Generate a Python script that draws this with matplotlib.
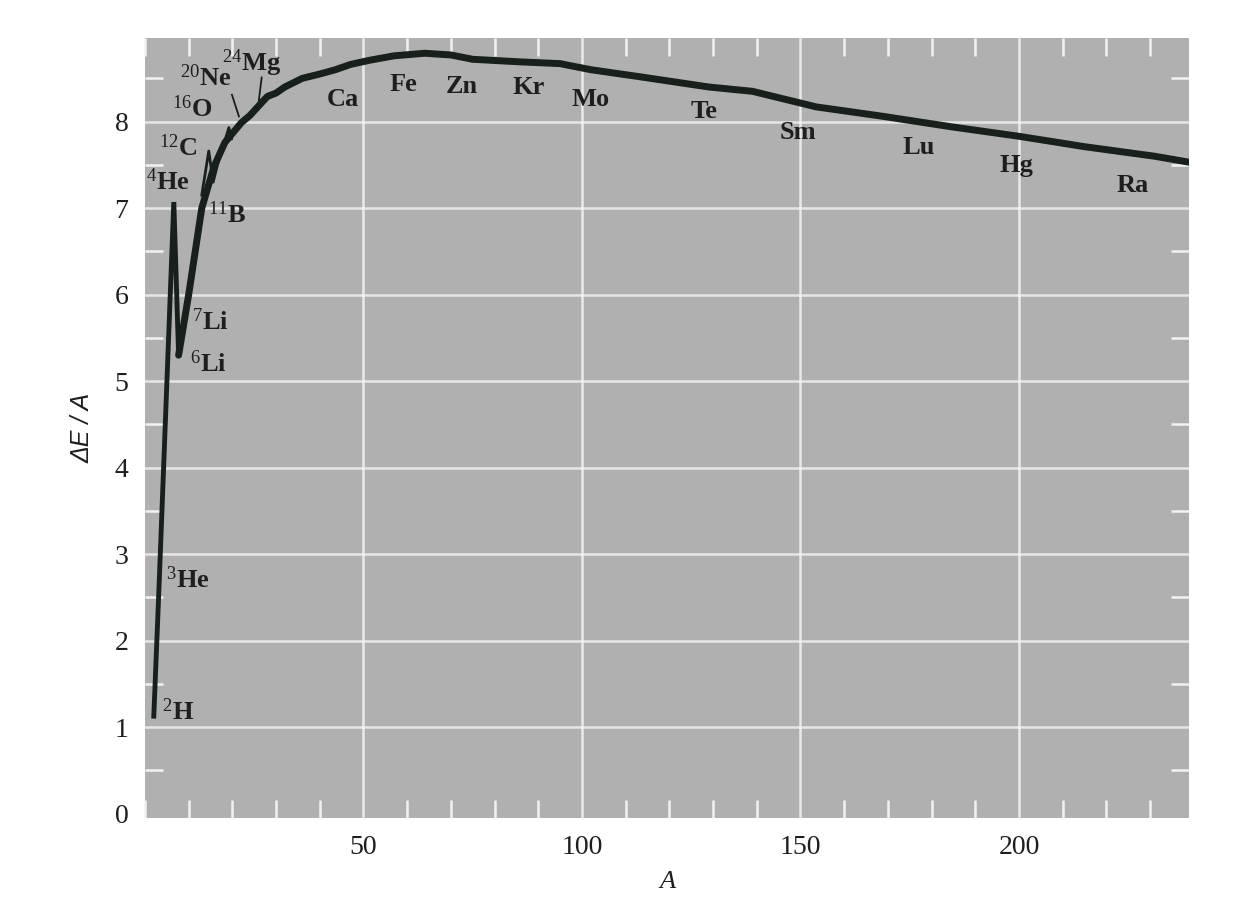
import matplotlib
matplotlib.use("Agg")
import matplotlib.pyplot as plt
from matplotlib.ticker import MultipleLocator

# binding energy per nucleon (A, dE/A in MeV)
# 2H -> 3He -> 4He spike -> down to the Li dip
light_A = [2.0, 3.2, 6.6, 7.7]
light_E = [1.1, 2.6, 7.07, 5.3]

# thin zigzag of 12C / 16O beside the main curve
spike_A = [13.0, 14.6, 15.6, 16.6, 19.2, 19.8]
spike_E = [7.15, 7.66, 7.30, 7.50, 7.93, 7.80]

# main curve
main_A = [7.7, 10.0, 13.0, 15.8, 18.3, 22.1, 24.0, 26.0, 28.0, 30.0, 32.0, 36.0, 40.0,
          43.6, 47.0, 51.5, 57.0, 64.0, 70.0, 75.0, 86.0, 95.0, 102.0, 113.0, 129.0,
          139.0, 153.6, 169.0, 184.5, 200.0, 215.0, 231.0, 239.0]
main_E = [5.3, 6.0, 7.0, 7.48, 7.76, 7.99, 8.07, 8.18, 8.29, 8.33, 8.40, 8.50, 8.55,
          8.60, 8.66, 8.71, 8.76, 8.79, 8.77, 8.72, 8.69, 8.67, 8.60, 8.52, 8.40,
          8.35, 8.17, 8.06, 7.94, 7.83, 7.71, 7.60, 7.53]

# element names along the curve
elem_names = ["Ca", "Fe", "Zn", "Kr", "Mo", "Te", "Sm", "Lu", "Hg", "Ra"]
elem_A = [45.4, 59.1, 72.6, 87.7, 102.0, 127.9, 149.5, 177.0, 199.5, 226.0]
elem_E = [8.25, 8.43, 8.40, 8.39, 8.25, 8.12, 7.87, 7.70, 7.49, 7.26]

# light isotopes (mass number, symbol)
iso_mass = ["24", "20", "16", "12", "4", "11", "7", "6", "3", "2"]
iso_sym = ["Mg", "Ne", "O", "C", "He", "B", "Li", "Li", "He", "H"]
iso_A = [24.5, 13.8, 10.8, 7.6, 5.3, 18.9, 15.0, 14.4, 9.9, 7.6]
iso_E = [8.67, 8.51, 8.15, 7.70, 7.31, 6.93, 5.69, 5.20, 2.71, 1.18]

# leader lines for 20Ne and 24Mg
lead_A = [[19.9, 21.5], [26.7, 26.0]]
lead_E = [[8.31, 8.06], [8.51, 8.22]]

x_ticks = [50, 100, 150, 200]
y_ticks = [0, 1, 2, 3, 4, 5, 6, 7, 8]

plt.rcParams["font.family"] = ["Liberation Serif", "DejaVu Serif"]
plt.rcParams["mathtext.fontset"] = "custom"
plt.rcParams["mathtext.rm"] = "Liberation Serif"
plt.rcParams["mathtext.default"] = "rm"

fig = plt.figure(figsize=(12.39, 8.97), dpi=100)
fig.set_facecolor("w")
ax = fig.add_axes([0.117, 0.088, 0.843, 0.870])
ax.set_facecolor("#b0b0b0")
for s in ax.spines.values():
    s.set_visible(False)

ax.set_xlim(0, 239)
ax.set_ylim(-0.05, 8.97)

ax.set_xticks(x_ticks)
ax.set_yticks(y_ticks)
ax.xaxis.set_minor_locator(MultipleLocator(10))
ax.yaxis.set_minor_locator(MultipleLocator(0.5))
ax.tick_params(which="major", length=0, labelsize=20, pad=12, colors="#1e1e1e")
ax.tick_params(which="minor", direction="in", length=13, width=1.8, color="#f2f2f2",
               top=True, right=True)

# white grid of the graph paper
for xv in x_ticks:
    ax.axvline(xv, color="#f4f4f4", lw=1.8, alpha=0.85, zorder=1)
for yv in y_ticks[1:]:
    ax.axhline(yv, color="#f4f4f4", lw=1.8, alpha=0.8, zorder=1)

line_col = "#17201b"
ax.plot(light_A, light_E, color=line_col, lw=3.5, solid_joinstyle="miter",
        solid_capstyle="butt", zorder=3)
ax.plot(spike_A, spike_E, color=line_col, lw=2.0, zorder=3)
ax.plot(main_A, main_E, color=line_col, lw=5.0, solid_capstyle="round", zorder=3)

for la, le in zip(lead_A, lead_E):
    ax.plot(la, le, color=line_col, lw=1.3, zorder=3)

for name, a, e in zip(elem_names, elem_A, elem_E):
    ax.text(a, e, name, fontsize=19, fontweight="bold", color="#1e1e1e",
            ha="center", va="center", zorder=4)

for m, sym, a, e in zip(iso_mass, iso_sym, iso_A, iso_E):
    ax.text(a, e, "$^{%s}$%s" % (m, sym), fontsize=19, fontweight="bold",
            color="#1e1e1e", ha="center", va="center", zorder=4)

ax.set_ylabel("ΔE / A", fontsize=18, style="italic", labelpad=14, color="#1e1e1e",
              family=["Liberation Sans", "DejaVu Sans"])
ax.set_xlabel("A", fontsize=19, style="italic", labelpad=8, color="#1e1e1e")

fig.savefig("out.png", dpi=100)
